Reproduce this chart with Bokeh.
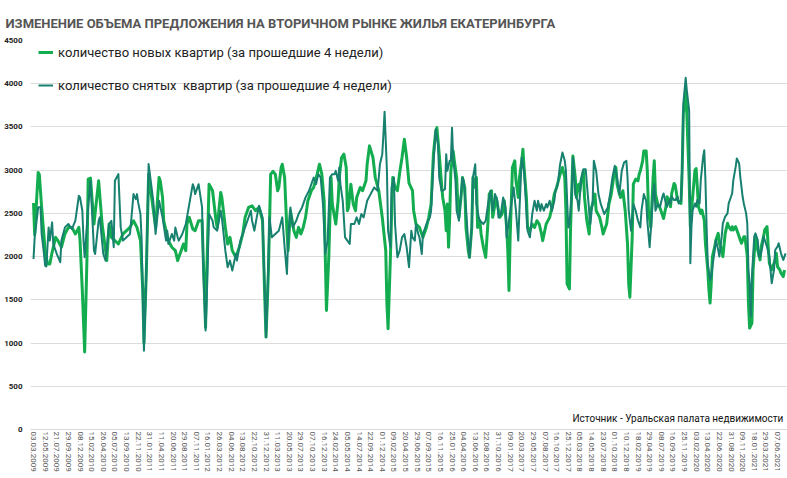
from bokeh.plotting import figure
from bokeh.models import FixedTicker, Legend, LegendItem, Label, Range1d
from bokeh.embed import file_html
from bokeh.resources import INLINE

title_text = "ИЗМЕНЕНИЕ ОБЪЕМА ПРЕДЛОЖЕНИЯ НА ВТОРИЧНОМ РЫНКЕ ЖИЛЬЯ ЕКАТЕРИНБУРГА"
label_new = "количество новых квартир (за прошедшие 4 недели)"
label_removed = "количество снятых  квартир (за прошедшие 4 недели)"
source_text = "Источник - Уральская палата недвижимости"

# x-axis tick labels (every 10th week)
tick_labels = [
    "03.03.2009", "12.05.2009", "21.07.2009", "29.09.2009", "08.12.2009", "15.02.2010",
    "26.04.2010", "05.07.2010", "13.09.2010", "22.11.2010", "31.01.2011", "11.04.2011",
    "20.06.2011", "29.08.2011", "07.11.2011", "16.01.2012", "26.03.2012", "04.06.2012",
    "13.08.2012", "22.10.2012", "31.12.2012", "11.03.2013", "20.05.2013", "29.07.2013",
    "07.10.2013", "16.12.2013", "24.02.2014", "05.05.2014", "14.07.2014", "22.09.2014",
    "01.12.2014", "09.02.2015", "20.04.2015", "29.06.2015", "07.09.2015", "16.11.2015",
    "25.01.2016", "04.04.2016", "13.06.2016", "22.08.2016", "31.10.2016", "09.01.2017",
    "20.03.2017", "29.05.2017", "07.08.2017", "16.10.2017", "25.12.2017", "05.03.2018",
    "14.05.2018", "23.07.2018", "01.10.2018", "10.12.2018", "18.02.2019", "29.04.2019",
    "08.07.2019", "16.09.2019", "25.11.2019", "03.02.2020", "13.04.2020", "22.06.2020",
    "31.08.2020", "09.11.2020", "18.01.2021", "29.03.2021", "07.06.2021",
]
y_ticks = [0, 500, 1000, 1500, 2000, 2500, 3000, 3500, 4000, 4500]

# new listings (week index from 03.03.2009, count)
new_data = [
    (0, 2620), (1, 2250), (2, 2500), (4, 2973), (5, 2950), (7, 2570), (10, 2070), (12, 1915),
    (14, 1915), (16, 2050), (19, 2223), (21, 2185), (24, 2108), (27, 2262), (30, 2338), (33, 2338),
    (36, 2262), (39, 2338), (40, 2185), (42, 1600), (44, 896), (46, 1992), (47, 2896), (49, 2908),
    (52, 2377), (56, 2877), (59, 2377), (62, 2070), (63, 1954), (65, 2377), (67, 2223), (70, 2185),
    (73, 2146), (77, 2262), (80, 2300), (83, 2338), (86, 2415), (89, 2338), (92, 2185), (94, 1600),
    (95, 1000), (97, 1800), (99, 2954), (102, 2646), (105, 2338), (108, 2915), (109, 2877),
    (111, 2685), (112, 2415), (114, 2300), (116, 2185), (119, 2108), (122, 2069), (124, 1954),
    (127, 2069), (129, 2146), (131, 2069), (132, 2377), (134, 2454), (137, 2319), (139, 2300),
    (142, 2415), (145, 2415), (146, 1992), (148, 1180), (149, 1800), (151, 2838), (154, 2762),
    (157, 2415), (158, 2338), (161, 2742), (162, 2685), (165, 2338), (167, 2146), (169, 2223),
    (171, 2069), (174, 1992), (177, 2108), (180, 2262), (182, 2454), (185, 2569), (188, 2588),
    (191, 2531), (194, 2569), (197, 2415), (199, 1492), (200, 1069), (202, 1800), (204, 2954),
    (206, 2985), (208, 2954), (210, 2762), (211, 2800), (213, 3030), (214, 3069), (216, 2915),
    (218, 2300), (219, 2069), (221, 2531), (224, 2300), (226, 2223), (228, 2338), (230, 2262),
    (232, 2338), (234, 2454), (236, 2646), (239, 2762), (241, 2800), (244, 2954), (246, 3069),
    (248, 2954), (250, 2646), (251, 1992), (252, 1377), (254, 1992), (256, 2915), (257, 2608),
    (259, 2454), (260, 2377), (262, 2646), (263, 2915), (265, 3146), (267, 3185), (269, 3031),
    (270, 2531), (271, 2569), (273, 2838), (275, 2608), (277, 2531), (278, 2685), (281, 2800),
    (283, 2762), (286, 2877), (287, 3069), (289, 3281), (292, 3146), (294, 2915), (297, 2762),
    (300, 2454), (303, 2069), (304, 1454), (305, 1165), (307, 1992), (309, 2915), (311, 2800),
    (313, 2762), (315, 2973), (317, 3146), (319, 3358), (321, 3146), (323, 2850), (326, 2762),
    (327, 2531), (329, 2377), (332, 2338), (335, 2223), (338, 2338), (340, 2454), (342, 2608),
    (344, 3185), (346, 3454), (347, 3492), (349, 3185), (351, 2838), (352, 2685), (354, 2531),
    (355, 2300), (356, 2608), (357, 2108), (358, 2454), (359, 2992), (361, 3223), (362, 3108),
    (364, 2915), (365, 2608), (366, 2454), (368, 2723), (369, 2915), (371, 2800), (372, 2338),
    (374, 2069), (375, 1992), (377, 2338), (378, 2915), (379, 2800), (381, 2915), (382, 2338),
    (384, 2415), (385, 2262), (387, 2108), (389, 1992), (391, 2415), (392, 2723), (394, 2762),
    (395, 2454), (398, 2685), (401, 2454), (403, 2492), (405, 2646), (407, 2338), (408, 2069),
    (409, 1608), (410, 2223), (412, 3031), (414, 3108), (415, 2877), (417, 2685), (418, 2915),
    (420, 3108), (421, 3242), (422, 3031), (424, 2685), (425, 2338), (427, 2300), (429, 2377),
    (431, 2338), (433, 2415), (435, 2377), (437, 2262), (438, 2185), (441, 2377), (444, 2454),
    (446, 2569), (448, 2723), (450, 2800), (453, 2954), (455, 3031), (457, 2915), (458, 2531),
    (459, 1685), (461, 1627), (462, 2338), (464, 3165), (466, 2915), (467, 2685), (469, 2838),
    (470, 2762), (471, 2877), (473, 2992), (474, 2685), (476, 2415), (478, 2262), (479, 2531),
    (481, 2608), (483, 2723), (484, 2531), (487, 2454), (489, 2338), (490, 2262), (493, 2377),
    (495, 2608), (497, 2723), (499, 2915), (501, 3031), (502, 2838), (504, 2723), (505, 2685),
    (507, 2762), (509, 2531), (511, 2146), (512, 1685), (513, 1531), (515, 2223), (516, 2838),
    (518, 2896), (520, 2877), (521, 2954), (522, 2992), (524, 3108), (525, 3223), (527, 3223),
    (528, 2992), (529, 2531), (531, 2338), (533, 2915), (534, 3108), (535, 2723), (537, 2608),
    (539, 2560), (542, 2440), (544, 2577), (545, 2692), (547, 2654), (548, 2577), (549, 2731),
    (551, 2846), (552, 2827), (554, 2654), (555, 2635), (557, 2615), (558, 3000), (559, 3654),
    (561, 3930), (562, 3654), (564, 2885), (565, 2346), (566, 2538), (567, 2692), (569, 3000),
    (570, 3019), (571, 2808), (572, 2577), (574, 2500), (575, 2538), (577, 2423), (578, 2154),
    (580, 1846), (581, 1615), (582, 1462), (583, 1692), (584, 2000), (586, 2115), (587, 2192),
    (589, 2269), (590, 2154), (592, 2077), (593, 2000), (595, 2269), (597, 2385), (598, 2346),
    (600, 2308), (601, 2346), (602, 2308), (604, 2346), (606, 2269), (608, 2192), (609, 2154),
    (611, 2231), (612, 2231), (614, 2000), (615, 1462), (616, 1173), (618, 1231), (619, 1846),
    (621, 2231), (622, 2154), (623, 2077), (625, 1962), (626, 2115), (628, 2231), (629, 2308),
    (631, 2346), (632, 2115), (633, 1923), (635, 1846), (636, 1885), (638, 1962), (639, 2038),
    (640, 1885), (642, 1846), (643, 1808), (645, 1769), (646, 1846),
]

# removed listings (week index, count)
removed_data = [
    (0, 1973), (1, 2223), (4, 2570), (6, 2570), (7, 2262), (9, 2031), (10, 1896), (11, 1885),
    (13, 2338), (14, 2185), (16, 2396), (17, 2146), (20, 2031), (23, 1935), (24, 2185), (27, 2338),
    (30, 2377), (33, 2319), (36, 2415), (39, 2704), (40, 2685), (42, 2531), (43, 2185), (44, 1992),
    (47, 2570), (49, 2877), (52, 2070), (53, 2031), (56, 2415), (57, 2454), (60, 2031), (62, 1954),
    (65, 2377), (67, 2415), (69, 2108), (70, 2877), (73, 2954), (75, 2338), (77, 2185), (80, 2223),
    (83, 2262), (86, 2723), (88, 2665), (89, 2723), (90, 2627), (92, 2492), (93, 2185), (95, 910),
    (97, 1800), (99, 3070), (103, 2646), (105, 2262), (108, 2646), (111, 2454), (114, 2185),
    (115, 2300), (116, 2146), (119, 2262), (121, 2185), (122, 2338), (124, 2223), (125, 2185),
    (128, 2262), (131, 2377), (134, 2608), (137, 2838), (138, 2800), (139, 2723), (142, 2838),
    (145, 2569), (146, 1877), (148, 1146), (149, 1492), (151, 2492), (154, 2415), (155, 2338),
    (158, 2300), (161, 2531), (162, 2454), (165, 2069), (167, 1877), (169, 1954), (171, 1838),
    (174, 2031), (175, 1954), (178, 2185), (181, 2300), (184, 2415), (187, 2531), (188, 2415),
    (190, 2300), (192, 2454), (194, 2588), (197, 2454), (198, 1992), (200, 1069), (201, 1415),
    (203, 2454), (205, 2223), (208, 2262), (211, 2300), (214, 2454), (216, 2108), (218, 1800),
    (219, 2185), (221, 2569), (223, 2338), (226, 2415), (228, 2492), (231, 2569), (234, 2685),
    (237, 2762), (240, 2877), (241, 2915), (243, 2838), (245, 2954), (247, 2915), (249, 2608),
    (251, 2031), (253, 2185), (255, 2915), (257, 2954), (259, 2954), (260, 2992), (262, 2877),
    (263, 3031), (264, 2838), (266, 2646), (268, 2223), (270, 2185), (272, 2146), (273, 2377),
    (276, 2377), (278, 2454), (280, 2377), (282, 2492), (284, 2454), (287, 2646), (290, 2723),
    (293, 2800), (296, 2762), (298, 3069), (300, 3185), (301, 3415), (302, 3677), (304, 3000),
    (305, 2300), (307, 2108), (308, 2800), (310, 2915), (311, 2377), (313, 1992), (315, 2069),
    (317, 2223), (319, 2262), (321, 2108), (323, 1877), (325, 2300), (326, 2223), (328, 2185),
    (329, 2377), (331, 2262), (332, 2223), (334, 2031), (335, 2262), (338, 2377), (341, 2454),
    (342, 2531), (344, 3069), (346, 3473), (348, 3300), (349, 2915), (351, 2762), (352, 2762),
    (354, 2781), (355, 3185), (356, 2992), (358, 3108), (359, 3108), (360, 3492), (361, 3146),
    (363, 2877), (364, 2531), (366, 2415), (367, 2608), (369, 2915), (370, 2877), (372, 2569),
    (374, 2146), (375, 1992), (377, 2338), (378, 2915), (380, 3069), (381, 2608), (383, 2454),
    (384, 2415), (387, 2377), (389, 2415), (391, 2608), (393, 2762), (395, 2531), (397, 2723),
    (399, 2646), (400, 2454), (402, 2492), (404, 2685), (406, 2569), (407, 2223), (409, 2415),
    (411, 2608), (413, 2800), (415, 2531), (417, 2185), (418, 2531), (420, 3146), (422, 2992),
    (424, 2531), (425, 2300), (427, 2223), (429, 2492), (431, 2646), (433, 2531), (434, 2646),
    (436, 2531), (437, 2608), (439, 2531), (441, 2608), (442, 2569), (444, 2646), (446, 2531),
    (448, 2646), (449, 2762), (451, 2838), (453, 3069), (455, 3204), (457, 3108), (458, 2992),
    (460, 2338), (461, 2377), (463, 2723), (464, 3146), (466, 2723), (468, 2646), (469, 2531),
    (471, 2877), (473, 3011), (475, 3011), (477, 2685), (479, 2377), (481, 2646), (482, 3108),
    (484, 2992), (486, 2723), (488, 2608), (490, 2531), (491, 2492), (494, 2569), (496, 2723),
    (498, 2915), (500, 3050), (502, 2915), (504, 2723), (506, 2992), (508, 3088), (510, 3108),
    (511, 2915), (512, 2531), (514, 2300), (516, 2608), (518, 2531), (520, 2415), (522, 2338),
    (523, 2531), (525, 2723), (527, 2646), (528, 2415), (530, 2108), (531, 2300), (533, 2723),
    (534, 2838), (535, 2531), (537, 2608), (539, 2577), (541, 2692), (542, 2731), (544, 2615),
    (545, 2577), (547, 2654), (548, 2615), (549, 2692), (551, 2654), (552, 2654), (554, 2692),
    (555, 2615), (557, 2654), (558, 3038), (559, 3769), (561, 4069), (562, 3923), (564, 3692),
    (565, 1923), (566, 2346), (567, 2538), (569, 2615), (570, 2577), (571, 2654), (573, 2615),
    (574, 2885), (576, 3154), (577, 3231), (578, 2885), (579, 2346), (580, 1923), (582, 1731),
    (583, 1769), (584, 1885), (586, 2077), (587, 2192), (589, 2077), (590, 2000), (592, 2231),
    (593, 2385), (595, 2462), (597, 2500), (598, 2615), (600, 2692), (601, 2731), (602, 2885),
    (604, 3038), (605, 3135), (607, 3077), (608, 2923), (610, 2692), (611, 2615), (613, 2500),
    (614, 2385), (615, 1846), (616, 1692), (617, 1308), (618, 1769), (620, 2231), (621, 2269),
    (623, 2192), (624, 2000), (625, 2000), (627, 2115), (628, 2231), (630, 2154), (631, 2115),
    (633, 2000), (634, 1846), (635, 1692), (637, 1846), (638, 2077), (640, 2115), (641, 2154),
    (643, 2038), (644, 2000), (645, 1962), (647, 2038),
]

new_weeks = [w for w, _ in new_data]
new_counts = [v for _, v in new_data]
removed_weeks = [w for w, _ in removed_data]
removed_counts = [v for _, v in removed_data]

GREEN = "#13ad50"
TEAL = "#17806f"

p = figure(width=787, height=478, output_backend="svg", toolbar_location=None,
           x_range=Range1d(-2.6, 648.6), y_range=Range1d(0, 4500),
           min_border_left=30, min_border_right=0, min_border_top=40, min_border_bottom=49)
p.outline_line_color = None
p.background_fill_color = "white"
p.border_fill_color = "white"

g = p.line(new_weeks, new_counts, line_color=GREEN, line_width=3, line_join="round")
t = p.line(removed_weeks, removed_counts, line_color=TEAL, line_width=2, line_join="round")

# axes
p.xaxis.ticker = FixedTicker(ticks=[i * 10 for i in range(len(tick_labels))])
p.xaxis.major_label_overrides = {i * 10: lab for i, lab in enumerate(tick_labels)}
p.xaxis.major_label_orientation = "vertical"
p.xaxis.major_label_text_font = "Roboto"
p.xaxis.major_label_text_font_size = "8px"
p.xaxis.major_label_text_color = "#555555"
p.xaxis.major_label_standoff = 2
p.xaxis.major_tick_line_color = None
p.xaxis.major_tick_out = 0
p.xaxis.major_tick_in = 0
p.xaxis.minor_tick_line_color = None
p.xaxis.axis_line_color = "#d9d9d9"

p.yaxis.ticker = FixedTicker(ticks=y_ticks)
p.yaxis.major_label_text_font = "Roboto"
p.yaxis.major_label_text_font_size = "8px"
p.yaxis.major_label_text_font_style = "bold"
p.yaxis.major_label_text_color = "#222222"
p.yaxis.major_label_standoff = 8
p.yaxis.major_tick_line_color = None
p.yaxis.major_tick_out = 0
p.yaxis.major_tick_in = 0
p.yaxis.minor_tick_line_color = None
p.yaxis.axis_line_color = None

p.xgrid.grid_line_color = None
p.ygrid.grid_line_color = "#dcdcdc"
p.ygrid.ticker = FixedTicker(ticks=y_ticks)

# title
p.title.text = title_text
p.title.text_font = "Roboto"
p.title.text_font_size = "13px"
p.title.text_font_style = "bold"
p.title.text_color = "#555555"
p.title.align = "left"
p.title.offset = -25
p.title.standoff = 20

legend = Legend(items=[LegendItem(label=label_new, renderers=[g]),
                       LegendItem(label=label_removed, renderers=[t])],
                location=(8, 336), margin=0, padding=0, spacing=17,
                label_height=16, glyph_height=16, glyph_width=15, label_standoff=5,
                label_text_font="Roboto", label_text_font_size="13px",
                label_text_color="#222222",
                background_fill_alpha=0, border_line_color=None)
p.add_layout(legend)

src = Label(x=645, y=125, text=source_text, text_align="right", text_baseline="middle",
            text_font="Roboto", text_font_size="10px", text_color="#111111")
p.add_layout(src)

open("out.html", "w").write(file_html(p, INLINE))
